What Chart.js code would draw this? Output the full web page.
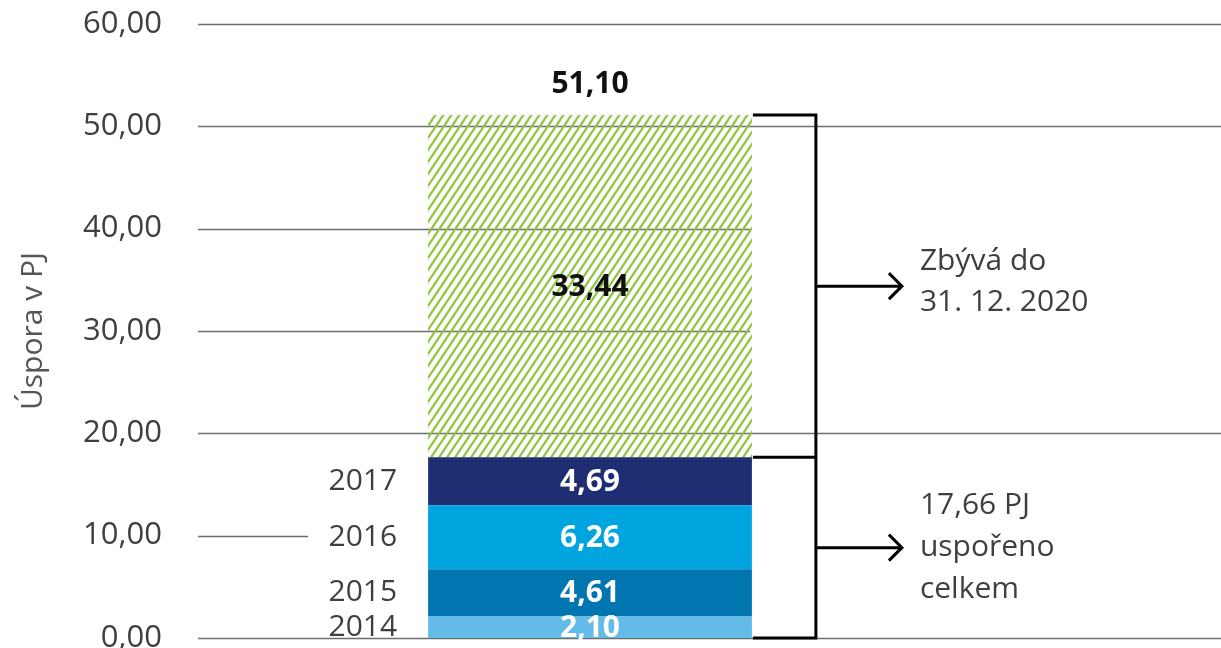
<!DOCTYPE html>
<html lang="cs">
<head>
    <meta charset="UTF-8">
    <title>Úspora v PJ</title>
    <script src="https://cdn.jsdelivr.net/npm/chart.js"></script>
    <style>
        html, body {
            margin: 0;
            padding: 0;
            background: #ffffff;
        }
        .wrap {
            width: 1221px;
            height: 648px;
        }
    </style>
</head>
<body>
<div class="wrap"><canvas id="savingsChart" width="1221" height="648"></canvas></div>
<script>
    // data
    const categories = ['Úspora'];
    const years = ['2014', '2015', '2016', '2017'];
    const yearValues = [2.10, 4.61, 6.26, 4.69];
    const remainingValue = 33.44;
    const yTicks = [0, 10, 20, 30, 40, 50, 60];
    const remainingText = ['Zbývá do', '31. 12. 2020'];
    const savedText = ['PJ', 'uspořeno', 'celkem'];

    const yearColors = ['#63bbe9', '#0075b0', '#00a5e0', '#1f2e72'];
    const textColor = '#3f3f3f';
    const fontFamily = '"Open Sans", "Noto Sans", sans-serif';

    const fmt = v => v.toFixed(2).replace('.', ',');

    function makeHatch() {
        const w = 8, h = 12;
        const c = document.createElement('canvas');
        c.width = w;
        c.height = h;
        const g = c.getContext('2d');
        g.strokeStyle = '#8dc63f';
        g.lineWidth = 2.3;
        g.beginPath();
        [-w, 0, w].forEach(dx => {
            g.moveTo(dx - w, 2 * h);
            g.lineTo(dx + 2 * w, -h);
        });
        g.stroke();
        return g.createPattern(c, 'repeat');
    }

    // gridlines: some stop short so they don't run into labels
    const gridPlugin = {
        id: 'customGrid',
        beforeDatasetsDraw(chart) {
            const {ctx, scales: {y}} = chart;
            const bar = chart.getDatasetMeta(0).data[0];
            const barLeft = bar.x - bar.width / 2;
            const barRight = bar.x + bar.width / 2;
            ctx.save();
            ctx.strokeStyle = '#6e6e6e';
            ctx.lineWidth = 1.5;
            yTicks.forEach(v => {
                let end = chart.width;
                if (v === 30 || v === 40) end = barRight - 2;
                if (v === 10) end = barLeft - 120;
                const py = Math.round(y.getPixelForValue(v)) + 0.5;
                ctx.beginPath();
                ctx.moveTo(chart.chartArea.left, py);
                ctx.lineTo(end, py);
                ctx.stroke();
            });
            ctx.restore();
        }
    };

    function arrow(ctx, x0, x1, py) {
        ctx.beginPath();
        ctx.moveTo(x0, py);
        ctx.lineTo(x1, py);
        ctx.moveTo(x1 - 13, py - 13);
        ctx.lineTo(x1, py);
        ctx.lineTo(x1 - 13, py + 13);
        ctx.stroke();
    }

    function textBlock(ctx, lines, x, cy, lh) {
        const top = cy - (lines.length - 1) * lh / 2;
        lines.forEach((t, i) => ctx.fillText(t, x, top + i * lh));
    }

    const labelPlugin = {
        id: 'labels',
        afterDatasetsDraw(chart) {
            const {ctx, scales: {y}} = chart;
            const n = chart.data.datasets.length;
            ctx.save();
            ctx.textBaseline = 'middle';

            // values inside the segments + year names on the left
            chart.data.datasets.forEach((ds, i) => {
                const el = chart.getDatasetMeta(i).data[0];
                const mid = (el.y + el.base) / 2;
                ctx.textAlign = 'center';
                ctx.font = 'bold 30px ' + fontFamily;
                ctx.fillStyle = i < years.length ? '#ffffff' : '#111111';
                ctx.fillText(fmt(ds.data[0]), el.x, mid + 1);
                if (i < years.length) {
                    ctx.textAlign = 'right';
                    ctx.font = '30px ' + fontFamily;
                    ctx.fillStyle = textColor;
                    ctx.fillText(years[i], el.x - el.width / 2 - 31, mid);
                }
            });

            // total above the bar
            const topEl = chart.getDatasetMeta(n - 1).data[0];
            const total = yearValues.reduce((a, b) => a + b, 0) + remainingValue;
            ctx.textAlign = 'center';
            ctx.font = 'bold 30px ' + fontFamily;
            ctx.fillStyle = '#111111';
            ctx.fillText(fmt(total), topEl.x, topEl.y - 31);

            // brackets and arrows
            const barRight = topEl.x + topEl.width / 2;
            const bx = barRight + 64;
            const yTop = topEl.y;
            const yMid = topEl.base;
            const yZero = y.getPixelForValue(0);
            ctx.strokeStyle = '#000000';
            ctx.lineWidth = 3;
            ctx.beginPath();
            ctx.moveTo(barRight + 1, yTop);
            ctx.lineTo(bx, yTop);
            ctx.lineTo(bx, yZero);
            ctx.lineTo(barRight + 1, yZero);
            ctx.moveTo(barRight + 1, yMid);
            ctx.lineTo(bx, yMid);
            ctx.stroke();

            const upperMid = (yTop + yMid) / 2;
            const lowerMid = (yMid + yZero) / 2;
            arrow(ctx, bx, bx + 86, upperMid);
            arrow(ctx, bx, bx + 86, lowerMid);

            const saved = yearValues.reduce((a, b) => a + b, 0);
            ctx.textAlign = 'left';
            ctx.font = '30px ' + fontFamily;
            ctx.fillStyle = textColor;
            textBlock(ctx, remainingText, bx + 104, upperMid - 4, 41);
            textBlock(ctx, [fmt(saved) + ' ' + savedText[0], savedText[1], savedText[2]], bx + 104, lowerMid, 42);
            ctx.restore();
        }
    };

    function draw() {
        const datasets = years.map((yr, i) => ({
            label: yr,
            data: [yearValues[i]],
            backgroundColor: yearColors[i],
            borderWidth: 0
        }));
        datasets.push({
            label: 'Zbývá',
            data: [remainingValue],
            backgroundColor: makeHatch(),
            borderWidth: 0
        });

        new Chart(document.getElementById('savingsChart'), {
            type: 'bar',
            data: {labels: categories, datasets: datasets},
            options: {
                responsive: false,
                animation: false,
                layout: {padding: {top: 24, bottom: 10, left: 0, right: 239}},
                datasets: {bar: {categoryPercentage: 1, barPercentage: 0.413}},
                plugins: {
                    legend: {display: false},
                    tooltip: {enabled: false}
                },
                scales: {
                    x: {stacked: true, display: false},
                    y: {
                        stacked: true,
                        min: 0,
                        max: 60,
                        afterBuildTicks: scale => {
                            scale.ticks = yTicks.map(v => ({value: v}));
                        },
                        afterFit: scale => {
                            scale.width = 198;
                            scale.paddingTop = 0;
                            scale.paddingBottom = 0;
                        },
                        ticks: {
                            padding: 36,
                            color: textColor,
                            font: {family: fontFamily, size: 31},
                            callback: v => fmt(v)
                        },
                        grid: {display: false, drawTicks: false},
                        border: {display: false},
                        title: {
                            display: true,
                            text: 'Úspora v PJ',
                            color: '#555555',
                            font: {family: fontFamily, size: 30},
                            padding: {top: 15, bottom: 0}
                        }
                    }
                }
            },
            plugins: [gridPlugin, labelPlugin]
        });
    }

    if (document.fonts && document.fonts.load) {
        Promise.all([
            document.fonts.load('30px "Open Sans"'),
            document.fonts.load('bold 30px "Open Sans"')
        ]).then(draw, draw);
    } else {
        draw();
    }
</script>
</body>
</html>
